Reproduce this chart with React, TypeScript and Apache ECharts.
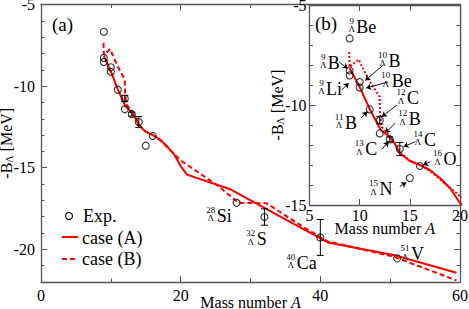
import React, { useEffect, useRef } from 'react';
import * as echarts from 'echarts';

const FONT = 'Liberation Serif';
const RED = '#ff0000';
const AXIS = '#555';

// Experimental data: mass number A, -B_Lambda [MeV], error
const expMass = [9, 9, 9, 10, 10, 11, 12, 12, 13, 14, 15, 16, 28, 32, 40, 51];
const expEnergy = [-6.67, -8.27, -8.52, -8.85, -9.12, -10.22, -10.76, -11.42, -11.72, -12.2, -13.65, -13.05, -17.15, -18.02, -19.27, -20.55];
const expError = [0, 0, 0, 0, 0, 0, 0.19, 0, 0.12, 0.33, 0, 0, 0, 0.5, 1.1, 0];

// case (A)
const caseAMass = [9, 10, 11, 11.9, 12.1, 13, 13.4, 14, 15, 16, 17, 18, 19, 20, 20.9, 27, 41.2, 50.5, 59.5];
const caseAEnergy = [-8.15, -9.1, -10.2, -11.05, -11.25, -11.6, -11.85, -12.4, -12.8, -13.0, -13.25, -13.65, -14.15, -14.9, -15.42, -16.3, -19.6, -20.35, -21.43];

// case (B)
const caseBMass = [8.95, 9.0, 9.9, 10.4, 11.05, 12.0, 12.05, 12.2, 13, 13.4, 14, 15, 16, 17, 20, 25.2, 28.3, 32.3, 38, 41, 50.5, 59.5];
const caseBEnergy = [-7.35, -8.1, -7.72, -8.25, -8.85, -9.6, -10.5, -11.1, -11.55, -11.8, -12.35, -12.78, -12.98, -13.3, -14.55, -16.06, -17.15, -17.18, -18.75, -19.5, -20.45, -21.9];

// Axis ticks
const mainXTicks = [0, 20, 40, 60];
const mainYTicks = [-20, -15, -10, -5];

// Nucleus labels: grid 0 = main, 1 = inset ; position in data units (left edge / middle of element symbol)
const labelMass = ['28', '32', '40', '51', '9', '9', '9', '10', '10', '12', '11', '12', '13', '14', '16', '15'];
const labelElem = ['Si', 'S', 'Ca', 'V', 'Be', 'B', 'Li', 'B', 'Be', 'C', 'B', 'B', 'C', 'C', 'O', 'N'];
const labelGrid = [0, 0, 0, 0, 1, 1, 1, 1, 1, 1, 1, 1, 1, 1, 1, 1];
const labelX = [25.16, 30.89, 36.62, 52.99, 9.65, 6.82, 6.65, 12.88, 13.2, 14.72, 8.55, 14.88, 10.55, 16.4, 18.35, 11.98];
const labelY = [-17.95, -19.37, -20.82, -20.29, -6.085, -7.875, -9.19, -7.79, -8.8, -9.67, -10.875, -10.71, -12.21, -11.73, -12.71, -14.21];

// Inset callout arrows (from label to point), data units of the inset
const arrowFrom = [[7.95, -7.85], [8.22, -9.25], [12.35, -8.0], [12.85, -8.85], [13.72, -10.0], [10.15, -10.65], [13.55, -10.915], [12.22, -12.215], [15.55, -11.835], [17.05, -12.835], [14.0, -14.075]];
const arrowTo = [[8.8, -8.175], [8.9, -8.9], [10.55, -8.775], [10.65, -9.15], [12.22, -10.585], [10.75, -10.325], [12.55, -11.385], [12.88, -11.835], [14.38, -12.085], [16.32, -13.0], [14.65, -13.875]];

const zip = (a: number[], b: number[]) => a.map((v, i) => [v, b[i]]);

export default function App() {
  const ref = useRef<HTMLDivElement>(null);
  useEffect(() => {
    const chart = echarts.init(ref.current!, null, { renderer: 'svg' });

    const expPts = zip(expMass, expEnergy);
    const errPts = expMass.map((m, i) => [m, expEnergy[i], expError[i]]).filter((p) => p[2] > 0);
    const insetErr = errPts.filter((p) => p[0] >= 5 && p[0] <= 20);
    const aPts = zip(caseAMass, caseAEnergy);
    const bPts = zip(caseBMass, caseBEnergy);

    const lineAxis = { lineStyle: { color: AXIS, width: 1.3 } };
    const tickStyle = { lineStyle: { color: AXIS, width: 1 } };
    const lbl = { color: '#000', fontSize: 16, fontFamily: FONT };

    const errRender = (params: any, api: any) => {
      const x = api.value(0), y = api.value(1), e = api.value(2);
      const t = api.coord([x, y + e]);
      const b = api.coord([x, y - e]);
      const w = 3.5;
      const st = { stroke: '#000', lineWidth: 1 };
      return {
        type: 'group',
        children: [
          { type: 'line', shape: { x1: t[0], y1: t[1], x2: b[0], y2: b[1] }, style: st },
          { type: 'line', shape: { x1: t[0] - w, y1: t[1], x2: t[0] + w, y2: t[1] }, style: st },
          { type: 'line', shape: { x1: b[0] - w, y1: b[1], x2: b[0] + w, y2: b[1] }, style: st },
        ],
      };
    };

    const yName = {
      name: '-B{s|Λ} [MeV]', nameLocation: 'middle', nameMoveOverlap: false,
      nameTextStyle: { ...lbl, rich: { s: { color: '#000', fontFamily: FONT, fontSize: 10, verticalAlign: 'bottom', padding: [6, 0, 0, 0] } } },
    };
    const xName = {
      name: 'Mass number {i|A}', nameLocation: 'middle', nameMoveOverlap: false,
      nameTextStyle: { ...lbl, rich: { i: { ...lbl, fontStyle: 'italic' } } },
    };

    const option: any = {
      animation: false,
      grid: [
        { left: 41, right: 9, top: 4.5, bottom: 27, containLabel: false, outerBoundsMode: 'none' },
        { left: 309.5, right: 9, top: 5, bottom: 104, show: true, backgroundColor: '#fff', borderWidth: 0, z: 10, containLabel: false, outerBoundsMode: 'none' },
      ],
      xAxis: [
        {
          gridIndex: 0, type: 'value', min: 0, max: 60, interval: 20, position: 'bottom',
          axisLine: lineAxis, axisTick: { inside: true, length: 6, ...tickStyle },
          minorTick: { show: true, splitNumber: 2, length: 3.5, ...tickStyle },
          axisLabel: { ...lbl, margin: 5, customValues: mainXTicks },
          splitLine: { show: false },
          ...xName, nameGap: 12,
        },
        {
          gridIndex: 0, type: 'value', min: 0, max: 60, interval: 20, position: 'top',
          axisLine: lineAxis, axisTick: { inside: true, length: 6, ...tickStyle },
          minorTick: { show: true, splitNumber: 2, length: 3.5, ...tickStyle },
          axisLabel: { show: false }, splitLine: { show: false },
        },
        {
          gridIndex: 1, type: 'value', min: 5, max: 20, interval: 5, position: 'bottom', z: 11,
          axisLine: lineAxis, axisTick: { inside: true, length: 6, ...tickStyle },
          axisLabel: { ...lbl, margin: 2 }, splitLine: { show: false },
          ...xName, nameGap: 15,
        },
        {
          gridIndex: 1, type: 'value', min: 5, max: 20, interval: 5, position: 'top', z: 11,
          axisLine: lineAxis, axisTick: { inside: true, length: 6, ...tickStyle },
          axisLabel: { show: false }, splitLine: { show: false },
        },
      ],
      yAxis: [
        {
          gridIndex: 0, type: 'value', min: -22, max: -5, position: 'left',
          axisLine: lineAxis,
          axisTick: { inside: true, length: 6, customValues: mainYTicks, ...tickStyle },
          axisLabel: { ...lbl, margin: 6, customValues: mainYTicks },
          splitLine: { show: false },
          ...yName, nameGap: 27,
        },
        {
          gridIndex: 0, type: 'value', min: -22, max: -5, interval: 1, position: 'left',
          axisLine: { show: false }, axisTick: { inside: true, length: 3.5, ...tickStyle },
          axisLabel: { show: false }, splitLine: { show: false },
        },
        {
          gridIndex: 0, type: 'value', min: -22, max: -5, position: 'right',
          axisLine: lineAxis,
          axisTick: { inside: true, length: 6, customValues: mainYTicks, ...tickStyle },
          axisLabel: { show: false, customValues: mainYTicks }, splitLine: { show: false },
        },
        {
          gridIndex: 0, type: 'value', min: -22, max: -5, interval: 1, position: 'right',
          axisLine: { show: false }, axisTick: { inside: true, length: 3.5, ...tickStyle },
          axisLabel: { show: false }, splitLine: { show: false },
        },
        {
          gridIndex: 1, type: 'value', min: -15, max: -5, interval: 5, position: 'left', z: 11,
          axisLine: lineAxis, axisTick: { inside: true, length: 6, ...tickStyle },
          minorTick: { show: true, splitNumber: 5, length: 3.5, ...tickStyle },
          axisLabel: { ...lbl, margin: 3 }, splitLine: { show: false },
          ...yName, nameGap: 24,
        },
        {
          gridIndex: 1, type: 'value', min: -15, max: -5, interval: 5, position: 'right', z: 11,
          axisLine: lineAxis, axisTick: { inside: true, length: 6, ...tickStyle },
          minorTick: { show: true, splitNumber: 5, length: 3.5, ...tickStyle },
          axisLabel: { show: false }, splitLine: { show: false },
        },
      ],
      series: [
        // main
        { type: 'line', name: 'case (A)', xAxisIndex: 0, yAxisIndex: 0, data: aPts, symbol: 'none', lineStyle: { color: RED, width: 2 }, z: 2 },
        { type: 'line', name: 'case (B)', xAxisIndex: 0, yAxisIndex: 0, data: bPts, symbol: 'none', lineStyle: { color: RED, width: 2, type: [5, 3] }, z: 2 },
        { type: 'custom', name: 'err', xAxisIndex: 0, yAxisIndex: 0, data: errPts, renderItem: errRender, encode: { x: 0, y: 1 }, z: 3 },
        { type: 'scatter', name: 'Exp.', xAxisIndex: 0, yAxisIndex: 0, data: expPts, symbol: 'circle', symbolSize: 7,
          itemStyle: { color: 'rgba(0,0,0,0)', borderColor: '#000', borderWidth: 1.1 }, z: 4 },
        // inset
        { type: 'line', name: 'case (A) inset', xAxisIndex: 2, yAxisIndex: 4, data: aPts, symbol: 'none', clip: true, lineStyle: { color: RED, width: 2 }, z: 12 },
        { type: 'line', name: 'case (B) inset', xAxisIndex: 2, yAxisIndex: 4, data: bPts, symbol: 'none', clip: true, lineStyle: { color: RED, width: 2, type: [2, 2] }, z: 12 },
        { type: 'custom', name: 'err inset', xAxisIndex: 2, yAxisIndex: 4, data: insetErr, renderItem: errRender, encode: { x: 0, y: 1 }, clip: true, z: 13 },
        { type: 'scatter', name: 'Exp. inset', xAxisIndex: 2, yAxisIndex: 4, data: expPts, symbol: 'circle', symbolSize: 7, clip: true,
          itemStyle: { color: 'rgba(0,0,0,0)', borderColor: '#000', borderWidth: 1.1 }, z: 14 },
        { type: 'lines', coordinateSystem: 'cartesian2d', xAxisIndex: 2, yAxisIndex: 4, z: 15,
          symbol: ['none', 'arrow'], symbolSize: 5,
          lineStyle: { color: '#000', width: 0.9, opacity: 1 },
          data: arrowFrom.map((f, i) => ({ coords: [f, arrowTo[i]] })) },
      ],
    };

    // text placed by its top edge (default alignment), y given as the middle
    const txt = (text: string, x: number, y: number, size: number, center = false) => ({
      type: 'text', x, y: y - size * 0.5,
      style: center
        ? { text, fontSize: size, fontFamily: FONT, fill: '#000', align: 'center' }
        : { text, fontSize: size, fontFamily: FONT, fill: '#000' },
    });

    chart.setOption(option);

    const graphics: any[] = [
      // legend
      { type: 'circle', shape: { cx: 69, cy: 216, r: 3.5 }, style: { fill: 'none', stroke: '#000', lineWidth: 1.1 } },
      txt('Exp.', 83, 216, 18),
      { type: 'line', shape: { x1: 62, y1: 237, x2: 78, y2: 237 }, style: { stroke: RED, lineWidth: 2 } },
      txt('case (A)', 82, 237.5, 18),
      { type: 'line', shape: { x1: 62, y1: 259, x2: 78, y2: 259 }, style: { stroke: RED, lineWidth: 2, lineDash: [5, 3] } },
      txt('case (B)', 82, 259, 18),
      // panel labels
      txt('(a)', 52, 24, 19),
      txt('(b)', 315, 23.5, 19),
    ];

    labelElem.forEach((el, i) => {
      const finder = labelGrid[i] === 0 ? { xAxisIndex: 0, yAxisIndex: 0 } : { xAxisIndex: 2, yAxisIndex: 4 };
      const p = chart.convertToPixel(finder as any, [labelX[i], labelY[i]]) as number[];
      const colW = labelMass[i].length > 1 ? 9 : 6;
      const cx = p[0] - 1.5 - colW / 2;
      graphics.push(txt(el, p[0], p[1], 18));
      graphics.push(txt(labelMass[i], cx, p[1] - 6, 9, true));
      graphics.push(txt('Λ', cx, p[1] + 2.5, 9, true));
    });

    chart.setOption({ graphic: { elements: graphics.map((g) => ({ ...g, z: 100 })) } });
    return () => chart.dispose();
  }, []);
  return <div ref={ref} style={{ position: 'fixed', left: 0, top: 0, width: 469, height: 309, background: '#fff' }} />;
}
